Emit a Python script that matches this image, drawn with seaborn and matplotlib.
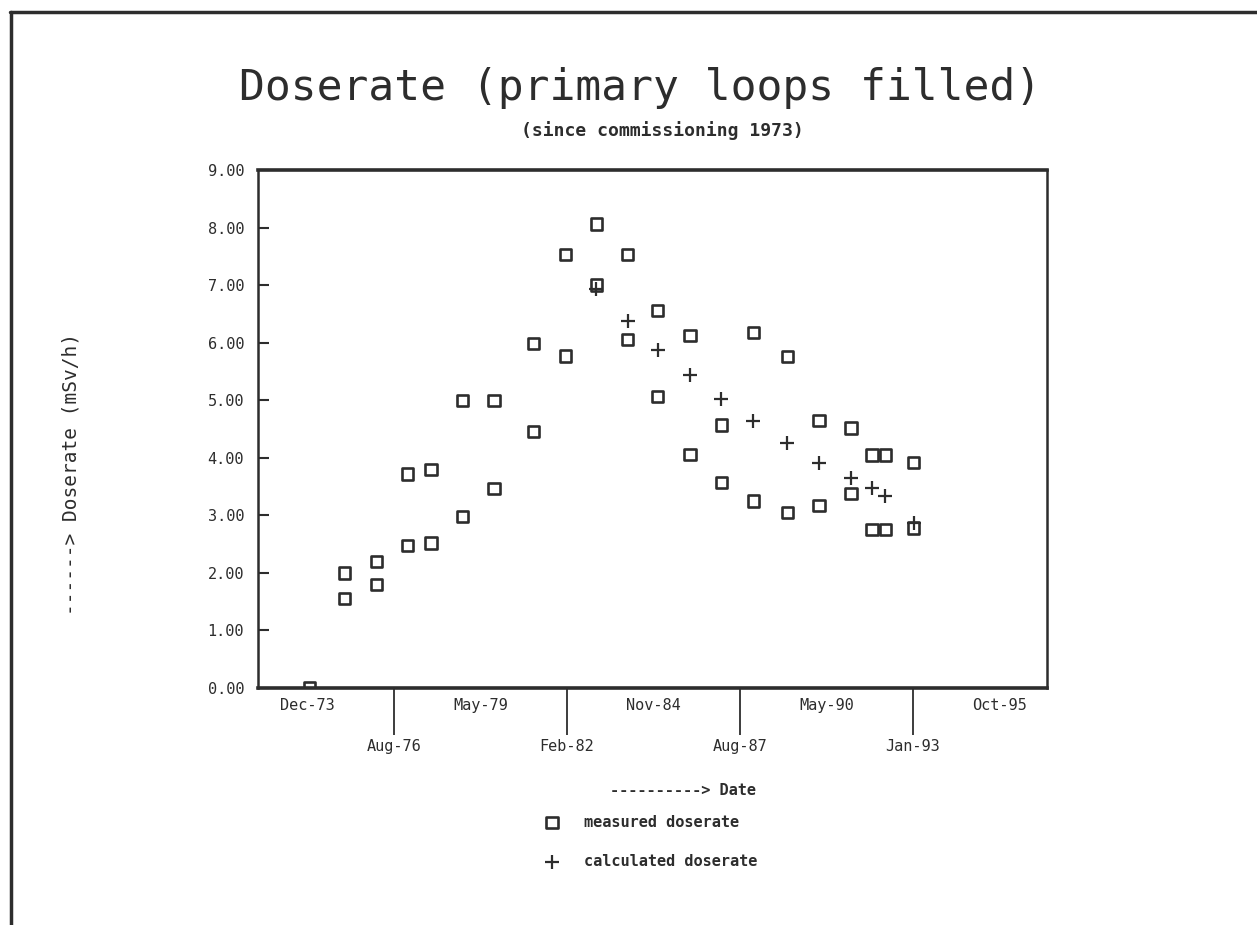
import pandas as pd
import matplotlib.pyplot as plt
from matplotlib.lines import Line2D
import seaborn as sns

# measured doserate (squares) - two values on most dates
meas_dates = ['1973-12-23',
              '1975-01-31', '1975-01-31',
              '1976-02-10', '1976-02-10',
              '1977-02-02', '1977-02-02',
              '1977-10-29', '1977-10-29',
              '1978-10-30', '1978-10-30',
              '1979-10-30', '1979-10-30',
              '1981-01-28', '1981-01-28',
              '1982-01-29', '1982-01-29',
              '1983-01-24', '1983-01-24',
              '1984-01-20', '1984-01-20',
              '1985-01-04', '1985-01-04',
              '1986-01-12', '1986-01-12',
              '1987-01-10', '1987-01-10',
              '1988-01-14', '1988-01-14',
              '1989-02-10', '1989-02-10',
              '1990-02-13', '1990-02-13',
              '1991-02-18', '1991-02-18',
              '1991-10-20', '1991-10-20',
              '1992-03-22', '1992-03-22',
              '1993-02-13', '1993-02-13']
meas_values = [0.00,
               2.00, 1.55,
               2.20, 1.80,
               3.72, 2.48,
               3.80, 2.52,
               5.00, 2.98,
               5.00, 3.47,
               5.98, 4.46,
               7.53, 5.77,
               8.06, 7.00,
               7.53, 6.06,
               6.56, 5.06,
               6.13, 4.06,
               4.57, 3.57,
               6.18, 3.25,
               5.76, 3.05,
               4.65, 3.17,
               4.52, 3.38,
               4.05, 2.76,
               4.05, 2.76,
               3.92, 2.78]

# calculated doserate (crosses)
calc_dates = ['1983-01-24', '1984-01-20', '1985-01-04', '1986-01-12', '1987-01-10',
              '1988-01-14', '1989-02-10', '1990-02-13', '1991-02-18', '1991-10-20',
              '1992-03-22', '1993-02-13']
calc_values = [6.93, 6.38, 5.88, 5.44, 5.02, 4.64, 4.26, 3.91, 3.65, 3.47, 3.34, 2.86]

# x ticks every 1000 days
tick_dates = ['1973-12-02', '1976-08-28', '1979-05-25', '1982-02-19', '1984-11-15',
              '1987-08-12', '1990-05-08', '1993-01-31', '1995-10-28']
tick_labels = ['Dec-73', 'Aug-76', 'May-79', 'Feb-82', 'Nov-84',
               'Aug-87', 'May-90', 'Jan-93', 'Oct-95']
y_ticks = [0, 1, 2, 3, 4, 5, 6, 7, 8, 9]

ink = '#2d2d2d'

sns.set_style('white')
plt.rcParams['font.family'] = ['DejaVu Sans Mono', 'DejaVu Sans']

meas = pd.DataFrame({'date': pd.to_datetime(meas_dates), 'dose': meas_values})
calc = pd.DataFrame({'date': pd.to_datetime(calc_dates), 'dose': calc_values})
ticks = pd.to_datetime(tick_dates)

fig = plt.figure(figsize=(12.57, 9.25), dpi=100)
ax = fig.add_axes([0.2053, 0.2562, 0.6277, 0.56])

sns.scatterplot(data=meas, x='date', y='dose', marker='s', s=66,
                facecolor='none', edgecolor=ink, linewidth=1.9,
                label='measured doserate', ax=ax, zorder=3)
sns.scatterplot(data=calc, x='date', y='dose', marker='+', s=90,
                color=ink, linewidth=1.6,
                label='calculated doserate', ax=ax, zorder=4)

ax.set_xlim(pd.Timestamp('1972-05-08'), pd.Timestamp('1997-05-05'))
ax.set_ylim(0, 9)

# upper row of date labels on short ticks, lower row on long ticks
ax.set_xticks(ticks[0::2])
ax.set_xticklabels(tick_labels[0::2])
ax.set_xticks(ticks[1::2], minor=True)
ax.set_xticklabels(tick_labels[1::2], minor=True)
ax.tick_params(axis='x', which='major', direction='out', length=5, width=1.3,
               pad=2, labelsize=11, colors=ink)
ax.tick_params(axis='x', which='minor', direction='out', length=34, width=1.3,
               pad=3, labelsize=11, colors=ink, bottom=True)

ax.set_yticks(y_ticks)
ax.set_yticklabels([f'{v:.2f}' for v in y_ticks])
ax.tick_params(axis='y', direction='in', length=8, width=1.5, pad=10,
               labelsize=11, colors=ink, left=True)

for side, lw in [('top', 2.6), ('bottom', 2.6), ('left', 1.8), ('right', 1.8)]:
    ax.spines[side].set_visible(True)
    ax.spines[side].set_color(ink)
    ax.spines[side].set_linewidth(lw)

ax.set_xlabel('----------> Date', fontsize=11, fontweight='bold', color=ink)
ax.xaxis.set_label_coords(0.539, -0.183)
ax.set_ylabel('------> Doserate (mSv/h)', fontsize=14, color=ink)
ax.yaxis.set_label_coords(-0.225, 0.413)

fig.text(0.509, 0.905, 'Doserate (primary loops filled)', ha='center', va='center',
         fontsize=31, color=ink)
fig.text(0.527, 0.859, '(since commissioning 1973)', ha='center', va='center',
         fontsize=13, fontweight='bold', color=ink)

ax.legend(loc='upper left', bbox_to_anchor=(0.427, 0.1276),
          bbox_transform=fig.transFigure, frameon=False, borderpad=0,
          handlelength=1, handletextpad=1.6, labelspacing=1.6,
          prop={'size': 11, 'weight': 'bold'}, labelcolor=ink)

# scanned page border
fig.add_artist(Line2D([0.008, 1.0], [0.987, 0.987], transform=fig.transFigure,
                      color=ink, lw=2.5))
fig.add_artist(Line2D([0.0088, 0.0088], [0.0, 0.987], transform=fig.transFigure,
                      color=ink, lw=2.5))

fig.savefig('out.png', dpi=100)
